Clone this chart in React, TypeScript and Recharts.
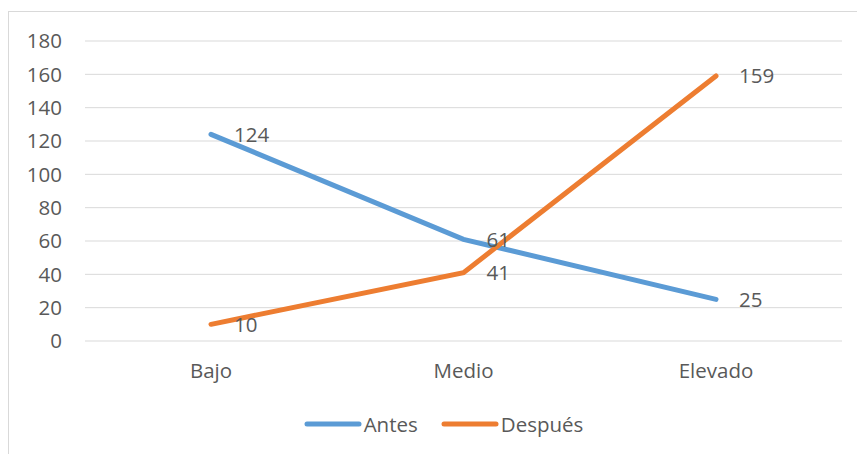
import React from "react";
import { LineChart, Line, XAxis, YAxis, CartesianGrid, LabelList } from "recharts";

const categories = ["Bajo", "Medio", "Elevado"];
const antes = [124, 61, 25];
const despues = [10, 41, 159];
const yTicks = [0, 20, 40, 60, 80, 100, 120, 140, 160, 180];
const seriesNames = ["Antes", "Después"];

const data = categories.map((c, i) => ({ name: c, [seriesNames[0]]: antes[i], [seriesNames[1]]: despues[i] }));

const FONT = "'Open Sans', sans-serif";
const TEXT = "#595959";
const BLUE = "#5B9BD5";
const ORANGE = "#ED7D31";
const colors = [BLUE, ORANGE];

const renderLabel = (props: any) => {
  const { x, y, value } = props;
  return (
    <text x={x + 23} y={y} dy="0.36em" fill={TEXT} fontSize={20.5} fontFamily={FONT} textAnchor="start">
      {value}
    </text>
  );
};

const LegendBox = () => (
  <div
    style={{
      position: "absolute",
      top: 412,
      left: 15,
      width: 857,
      display: "flex",
      justifyContent: "center",
      alignItems: "center",
      fontFamily: FONT,
      fontSize: 20.5,
      color: TEXT,
    }}
  >
    {seriesNames.map((label, i) => (
      <div key={label} style={{ display: "flex", alignItems: "center", marginLeft: i === 0 ? 0 : 23 }}>
        <svg width={58} height={10} style={{ display: "block" }}>
          <line x1={3} y1={5} x2={55} y2={5} stroke={colors[i]} strokeWidth={5} strokeLinecap="round" />
        </svg>
        <span style={{ marginLeft: 2, lineHeight: "24px" }}>{label}</span>
      </div>
    ))}
  </div>
);

export default function App() {
  return (
    <div style={{ position: "absolute", left: 0, top: 0, width: 857, height: 454, overflow: "hidden", background: "#fff" }}>
      <div style={{ position: "absolute", left: 8, top: 11, width: 880, height: 480, border: "1px solid #d9d9d9" }} />
      <div style={{ position: "absolute", left: 0, top: 0 }}>
        <LineChart width={857} height={454} data={data} margin={{ top: 41, right: 15, bottom: 0, left: 0 }}>
          <CartesianGrid vertical={false} stroke="#d9d9d9" strokeWidth={1} />
          <XAxis
            dataKey="name"
            axisLine={false}
            tickLine={false}
            tickSize={0}
            tickMargin={22}
            height={113}
            padding={{ left: 126, right: 126 }}
            tick={{ fill: TEXT, fontSize: 20.5, fontFamily: FONT }}
            interval={0}
          />
          <YAxis
            width={85}
            domain={[0, 180]}
            ticks={yTicks}
            axisLine={false}
            tickLine={false}
            tickSize={0}
            tickMargin={23}
            tick={{ fill: TEXT, fontSize: 20.5, fontFamily: FONT }}
            interval={0}
          />
          {seriesNames.map((s, i) => (
            <Line
              key={s}
              type="linear"
              dataKey={s}
              stroke={colors[i]}
              strokeWidth={5}
              strokeLinecap="round"
              dot={false}
              activeDot={false}
              isAnimationActive={false}
            >
              <LabelList dataKey={s} content={renderLabel} />
            </Line>
          ))}
        </LineChart>
      </div>
      <LegendBox />
    </div>
  );
}
